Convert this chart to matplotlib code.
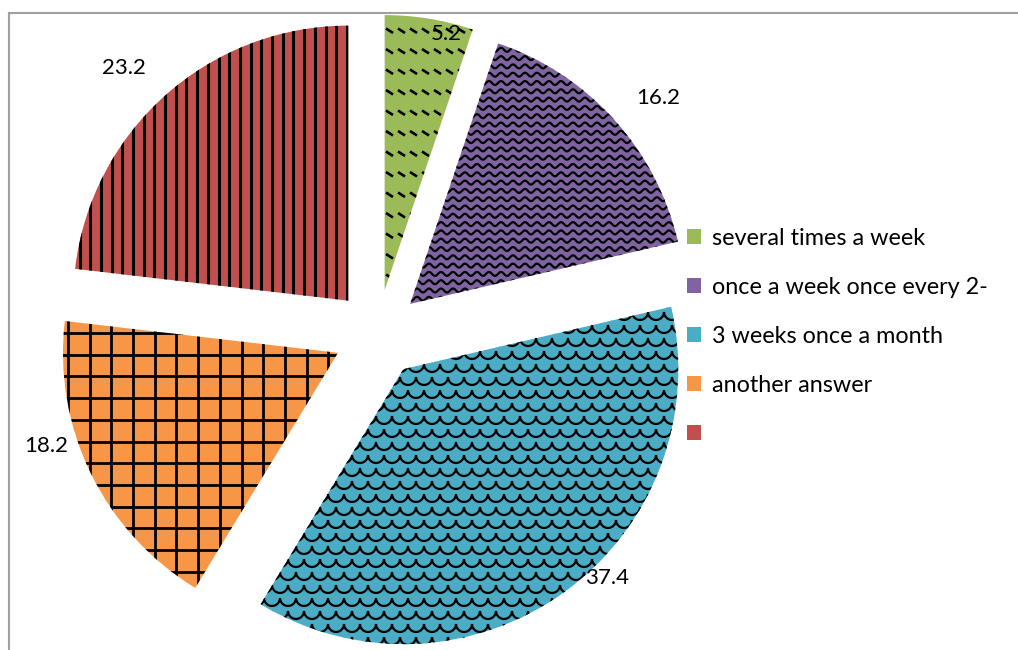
import matplotlib
matplotlib.use("Agg")
import matplotlib.pyplot as plt
import numpy as np
from matplotlib.collections import LineCollection
from matplotlib.lines import Line2D

# data
values = [5.2, 16.2, 37.4, 18.2, 23.2]
value_labels = ["5.2", "16.2", "37.4", "18.2", "23.2"]
legend_labels = ["several times a week", "once a week once every 2-",
                 "3 weeks once a month", "another answer", ""]
colors = ["#9BBB59", "#8064A2", "#4BACC6", "#F79646", "#C0504D"]

# layout, in pixels of the 1018x650 picture (y measured from top)
W, H = 1018, 650
S = 275.0                 # pixels per pie radius
PCX, PCY = 377.5, 333.5   # pie centre
explode = 0.16
label_pos = [(446, 34), (658, 98), (607, 578), (46, 446), (124, 68)]
FONT = "Lato"


def to_data(px, py):
    return (np.asarray(px, float) - PCX) / S, (PCY - np.asarray(py, float)) / S


fig = plt.figure(figsize=(W / 100, H / 100), dpi=100)
ax = fig.add_axes([0, 0, 1, 1])

wedges, _ = ax.pie(values, radius=1, center=(0, 0), startangle=90, counterclock=False,
                   explode=[explode] * len(values), colors=colors,
                   wedgeprops=dict(linewidth=0))

ax.set_xlim(-PCX / S, (W - PCX) / S)
ax.set_ylim((PCY - H) / S, PCY / S)
ax.set_aspect("auto")
ax.axis("off")


# fill patterns drawn as black lines clipped to each wedge
def add_pattern(segs_px, wedge, lw):
    segs = [np.column_stack(to_data(s[:, 0], s[:, 1])) for s in segs_px]
    lc = LineCollection(segs, colors="black", linewidths=lw, capstyle="butt")
    ax.add_collection(lc)
    lc.set_clip_path(wedge)


# dashed downward diagonal
segs = []
for y in np.arange(8, H, 20.5):
    for x in np.arange(-10, W, 12):
        segs.append(np.array([[x, y], [x + 7, y + 4.5]]))
add_pattern(segs, wedges[0], 1.9)

# wave
segs = []
xs = np.arange(0, W + 1, 1.0)
for y0 in np.arange(0, H, 8.3):
    segs.append(np.column_stack([xs, y0 + 2.0 * np.sin(2 * np.pi * xs / 12)]))
add_pattern(segs, wedges[1], 1.6)

# scales
segs = []
th = np.linspace(0, np.pi, 12)
for j, y0 in enumerate(np.arange(0, H + 13, 13)):
    off = (j % 2) * 8
    for xc in np.arange(-16, W + 16, 16) + off:
        segs.append(np.column_stack([xc + 8 * np.cos(th), y0 + 8 * np.sin(th)]))
add_pattern(segs, wedges[2], 1.6)

# large grid
segs = []
for x in np.arange(68 - 21.7 * 4, W, 21.7):
    segs.append(np.array([[x, 0], [x, H]]))
for y in np.arange(333 - 21.7 * 16, H, 21.7):
    segs.append(np.array([[0, y], [W, y]]))
add_pattern(segs, wedges[3], 2.0)

# dark vertical
segs = []
for x in np.arange(347 - 10.7 * 34, W, 10.7):
    segs.append(np.array([[x, 0], [x, H]]))
add_pattern(segs, wedges[4], 2.2)

# value labels
for txt, (lx, ly) in zip(value_labels, label_pos):
    x, y = to_data(lx, ly)
    ax.text(x, y, txt, ha="center", va="center", fontsize=16, family=FONT)

# legend
handles = [plt.Rectangle((0, 0), 1, 1, facecolor=c, edgecolor="none") for c in colors]
ax.legend(handles, legend_labels, loc="upper left",
          bbox_to_anchor=(687 / W, 1 - 228 / H), bbox_transform=fig.transFigure,
          frameon=False, prop={"family": FONT, "size": 16.8},
          handlelength=0.62, handleheight=0.62, handletextpad=0.45,
          labelspacing=1.2, borderpad=0, borderaxespad=0)

# chart area border (only top and left are inside the picture)
fig.add_artist(Line2D([9 / W, 9 / W], [0, 1 - 13 / H], transform=fig.transFigure,
                      color="#A0A0A0", lw=1.5))
fig.add_artist(Line2D([9 / W, 1], [1 - 13 / H, 1 - 13 / H], transform=fig.transFigure,
                      color="#A0A0A0", lw=1.5))

fig.savefig("out.png", dpi=100)
